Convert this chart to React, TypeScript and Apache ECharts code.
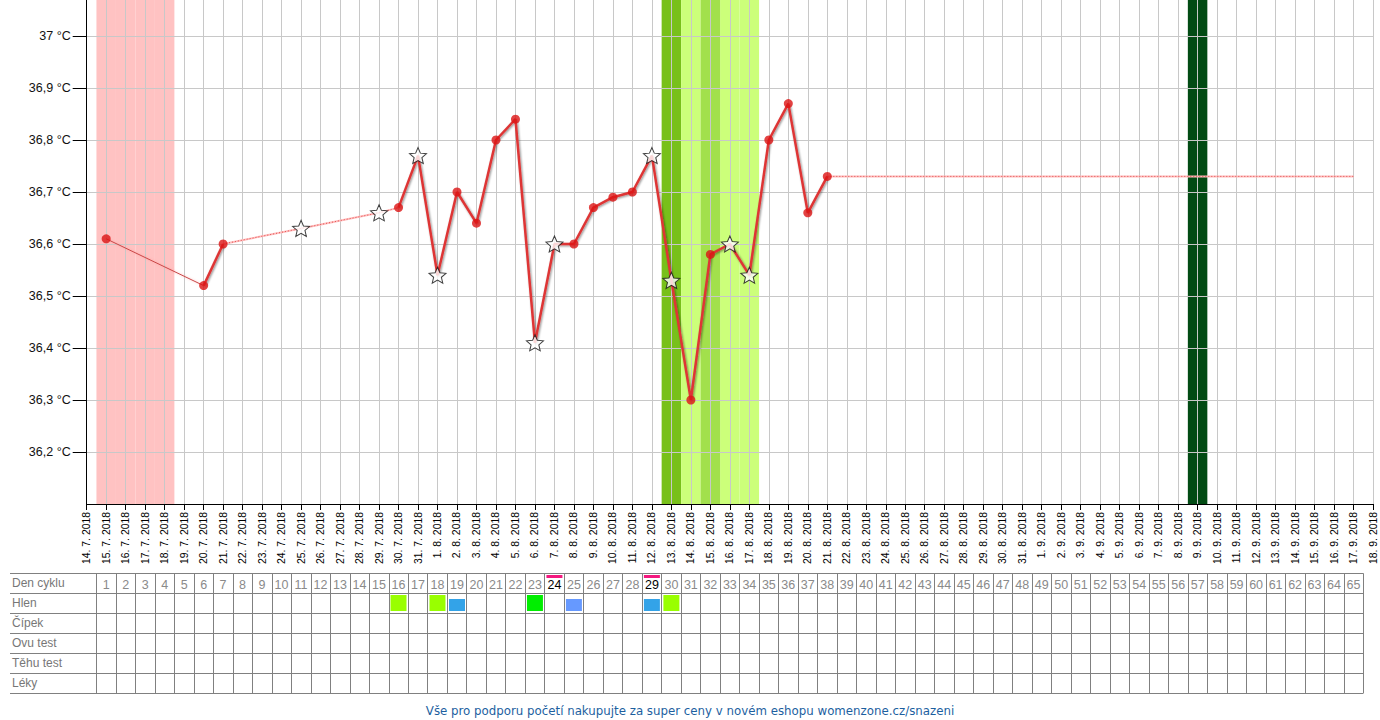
import React, { useEffect, useRef } from "react";
import * as echarts from "echarts";

// ---- Data ----
const dates = [
  "14. 7. 2018", "15. 7. 2018", "16. 7. 2018", "17. 7. 2018", "18. 7. 2018", "19. 7. 2018",
  "20. 7. 2018", "21. 7. 2018", "22. 7. 2018", "23. 7. 2018", "24. 7. 2018", "25. 7. 2018",
  "26. 7. 2018", "27. 7. 2018", "28. 7. 2018", "29. 7. 2018", "30. 7. 2018", "31. 7. 2018",
  "1. 8. 2018", "2. 8. 2018", "3. 8. 2018", "4. 8. 2018", "5. 8. 2018", "6. 8. 2018",
  "7. 8. 2018", "8. 8. 2018", "9. 8. 2018", "10. 8. 2018", "11. 8. 2018", "12. 8. 2018",
  "13. 8. 2018", "14. 8. 2018", "15. 8. 2018", "16. 8. 2018", "17. 8. 2018", "18. 8. 2018",
  "19. 8. 2018", "20. 8. 2018", "21. 8. 2018", "22. 8. 2018", "23. 8. 2018", "24. 8. 2018",
  "25. 8. 2018", "26. 8. 2018", "27. 8. 2018", "28. 8. 2018", "29. 8. 2018", "30. 8. 2018",
  "31. 8. 2018", "1. 9. 2018", "2. 9. 2018", "3. 9. 2018", "4. 9. 2018", "5. 9. 2018",
  "6. 9. 2018", "7. 9. 2018", "8. 9. 2018", "9. 9. 2018", "10. 9. 2018", "11. 9. 2018",
  "12. 9. 2018", "13. 9. 2018", "14. 9. 2018", "15. 9. 2018", "16. 9. 2018", "17. 9. 2018",
  "18. 9. 2018",
];

const tempDays = [1, 6, 7, 11, 15, 16, 17, 18, 19, 20, 21, 22, 23, 24, 25, 26, 27, 28, 29, 30, 31, 32, 33, 34, 35, 36, 37, 38];
const temps = [36.61, 36.52, 36.6, 36.63, 36.66, 36.67, 36.77, 36.54, 36.7, 36.64, 36.8, 36.84, 36.41, 36.6, 36.6, 36.67, 36.69, 36.7, 36.77, 36.53, 36.3, 36.58, 36.6, 36.54, 36.8, 36.87, 36.66, 36.73];
const starDays = [11, 15, 17, 18, 23, 24, 29, 30, 33, 34];

const solidRuns = [[6, 7], [16, 38]]; // thick line runs (first day, last day)
const thinSolidLink = [1, 6];
const dottedLink = [7, 11, 15, 16];
const projectionEnd = 65;

const periodDays = [1, 2, 3, 4];
const fertileDark = [30];
const fertileLight = [31, 33, 34];
const fertileMid = [32];
const markedBand = [57];

const tableRows = ["Den cyklu", "Hlen", "Čípek", "Ovu test", "Těhu test", "Léky"];
const cycleDays = Array.from({ length: 65 }, (_, i) => String(i + 1));
const markedCycleDays = [24, 29];
const hlenDays = [16, 18, 19, 23, 25, 29, 30];
const hlenTypes = ["A", "A", "B", "C", "D", "B", "A"];

const footerText = "Vše pro podporu početí nakupujte za super ceny v novém eshopu womenzone.cz/snazeni";

// ---- Styles ----
const hlenStyle: Record<string, { color: string; h: number }> = {
  A: { color: "#99ff00", h: 16 },
  B: { color: "#33a3e8", h: 12 },
  C: { color: "#00ee00", h: 16 },
  D: { color: "#6699ff", h: 12 },
};

const tempOf = (d: number) => temps[tempDays.indexOf(d)];
const FONT = "Liberation Sans, Arial, sans-serif";
const STAR = "path://M12,1.5 L14.9,8.3 L22.3,9 L16.7,13.9 L18.4,21.2 L12,17.4 L5.6,21.2 L7.3,13.9 L1.7,9 L9.1,8.3 Z";

function bandAreas(days: number[], color: string) {
  return days.map((d) => [
    { xAxis: d - 0.5, itemStyle: { color } },
    { xAxis: d + 0.5 },
  ]);
}

export default function App() {
  const ref = useRef<HTMLDivElement>(null);
  useEffect(() => {
    if (!ref.current) return;
    const chart = echarts.init(ref.current, undefined, { renderer: "svg" });

    const series: any[] = [];
    // bands
    series.push({
      type: "line",
      xAxisIndex: 0,
      yAxisIndex: 0,
      data: [],
      z: 1,
      silent: true,
      markArea: {
        silent: true,
        data: [
          ...bandAreas(periodDays, "#ffc2c2"),
          ...bandAreas(fertileDark, "#78c01a"),
          ...bandAreas(fertileLight, "#ccff7a"),
          ...bandAreas(fertileMid, "#a2e04c"),
          ...bandAreas(markedBand, "#024b14"),
        ],
      },
    });
    // thin solid link
    series.push({
      type: "line",
      z: 3,
      data: thinSolidLink.map((d) => [d, tempOf(d)]),
      showSymbol: false,
      lineStyle: { color: "#c84848", width: 1, shadowColor: "rgba(255,120,120,0.5)", shadowBlur: 2 },
    });
    // dotted links (pink under + red dotted)
    const dottedSets = [
      dottedLink.map((d) => [d, tempOf(d)]),
      [[38, tempOf(38)], [projectionEnd, tempOf(38)]],
    ];
    dottedSets.forEach((data) => {
      series.push({
        type: "line",
        z: 3,
        data,
        showSymbol: false,
        lineStyle: { color: "#ffbcbc", width: 2 },
      });
      series.push({
        type: "line",
        z: 3,
        data,
        showSymbol: false,
        lineStyle: { color: "#e05050", width: 1, type: [1, 2] },
      });
    });
    // thick runs
    solidRuns.forEach(([a, b]) => {
      const data = tempDays.filter((d) => d >= a && d <= b).map((d) => [d, tempOf(d)]);
      series.push({
        type: "line",
        z: 4,
        data,
        showSymbol: false,
        lineStyle: {
          color: "#de3636",
          width: 2.5,
          shadowColor: "rgba(0,0,0,0.45)",
          shadowBlur: 2,
          shadowOffsetX: 1,
          shadowOffsetY: 1,
        },
      });
    });
    // dots
    series.push({
      type: "scatter",
      z: 5,
      symbol: "circle",
      symbolSize: 9,
      itemStyle: { color: "#dc1414" },
      data: tempDays.filter((d) => !starDays.includes(d)).map((d) => [d, tempOf(d)]),
    });
    // stars
    series.push({
      type: "scatter",
      z: 6,
      symbol: STAR,
      symbolSize: [17, 16],
      itemStyle: { color: "#ffffff", borderColor: "#111", borderWidth: 1 },
      data: starDays.map((d) => [d, tempOf(d)]),
    });
    // table: pink markers above days
    series.push({
      type: "custom",
      xAxisIndex: 1,
      yAxisIndex: 1,
      z: 5,
      data: markedCycleDays.map((d) => [d - 1, 0]),
      renderItem: (_p: any, api: any) => {
        const c = api.coord([api.value(0), api.value(1)]);
        const s = api.size([1, 1]);
        const top = c[1] - s[1] / 2;
        return {
          type: "rect",
          shape: { x: c[0] - 8, y: top + 1.7, width: 16, height: 3 },
          style: { fill: "#f4187f" },
        };
      },
    });
    // table: hlen squares
    series.push({
      type: "custom",
      xAxisIndex: 1,
      yAxisIndex: 1,
      z: 5,
      data: hlenDays.map((d, i) => [d - 1, 1, i]),
      renderItem: (_p: any, api: any) => {
        const c = api.coord([api.value(0), api.value(1)]);
        const s = api.size([1, 1]);
        const st = hlenStyle[hlenTypes[api.value(2)]];
        const top = c[1] - s[1] / 2;
        return {
          type: "rect",
          shape: { x: c[0] - 8, y: top + 1.7 + (16 - st.h), width: 16, height: st.h },
          style: { fill: st.color },
        };
      },
    });

    const option: any = {
      animation: false,
      backgroundColor: "#ffffff",
      title: {
        text: footerText,
        left: "center",
        top: 700,
        textStyle: { color: "#1d5f9f", fontSize: 11.8, fontWeight: "normal", fontFamily: "DejaVu Sans, Verdana, sans-serif" },
      },
      grid: [
        { left: 86.7, top: -16, width: 1286.3, height: 520, outerBoundsMode: "none", containLabel: false },
        { left: 96.4, top: 573.3, width: 1266.9, height: 120, outerBoundsMode: "none", containLabel: false },
        { left: 10, top: 573.3, width: 1353.3, height: 120, outerBoundsMode: "none", containLabel: false },
      ],
      xAxis: [
        {
          type: "value",
          gridIndex: 0,
          min: 0,
          max: 66,
          interval: 1,
          z: 2,
          axisLine: { show: true, onZero: false, lineStyle: { color: "#000", width: 1 } },
          axisTick: { show: true, length: 6, lineStyle: { color: "#000" } },
          axisLabel: {
            rotate: 90,
            margin: 8,
            color: "#000",
            fontSize: 10.4,
            fontFamily: FONT,
            formatter: (v: number) => dates[Math.round(v)] ?? "",
          },
          splitLine: { show: true, lineStyle: { color: "#c8c8c8", width: 1 } },
        },
        {
          type: "category",
          gridIndex: 1,
          data: cycleDays,
          position: "top",
          boundaryGap: true,
          axisLine: { show: false },
          axisTick: { show: false },
          axisLabel: {
            inside: true,
            interval: 0,
            margin: 5,
            fontSize: 12.5,
            fontFamily: FONT,
            color: (v: string) => (markedCycleDays.includes(Number(v)) ? "#000" : "#8a8a8a"),
          },
          splitLine: { show: true, interval: 0, lineStyle: { color: "#808080", width: 1 } },
        },
        { type: "value", gridIndex: 2, show: false },
      ],
      yAxis: [
        {
          type: "value",
          gridIndex: 0,
          min: 36.1,
          max: 37.1,
          interval: 0.1,
          z: 2,
          axisLine: { show: true, lineStyle: { color: "#000", width: 1 } },
          axisTick: { show: true, length: 14, lineStyle: { color: "#000" } },
          axisLabel: {
            showMinLabel: false,
            showMaxLabel: false,
            margin: 16,
            color: "#111",
            fontSize: 12.5,
            fontFamily: FONT,
            formatter: (v: number) => String(Number(v.toFixed(1))).replace(".", ",") + " °C",
          },
          splitLine: { show: true, lineStyle: { color: "#c8c8c8", width: 1 } },
        },
        {
          type: "category",
          gridIndex: 1,
          data: tableRows,
          inverse: true,
          boundaryGap: true,
          axisLine: { show: false },
          axisTick: { show: false },
          splitLine: { show: false },
          axisLabel: {
            align: "left",
            margin: 84.4,
            color: "#777",
            fontSize: 12,
            fontFamily: FONT,
          },
        },
        {
          type: "category",
          gridIndex: 2,
          data: tableRows,
          inverse: true,
          boundaryGap: true,
          axisLine: { show: false },
          axisTick: { show: false },
          axisLabel: { show: false },
          splitLine: { show: true, interval: 0, lineStyle: { color: "#808080", width: 1 } },
        },
      ],
      series,
    };
    chart.setOption(option);
    return () => chart.dispose();
  }, []);

  return (
    <div
      ref={ref}
      style={{ position: "absolute", left: 0, top: 0, width: 1380, height: 720 }}
    />
  );
}
